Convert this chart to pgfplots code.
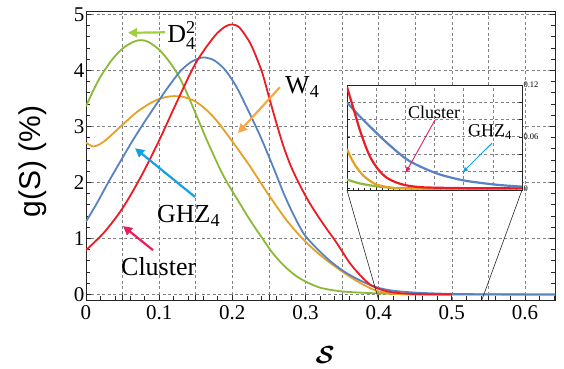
\documentclass[border=0pt]{standalone}
\usepackage{fontspec}
\setmainfont{Liberation Serif}
\newfontfamily\labelfont{Liberation Sans}
\newfontfamily\tickfont{Liberation Serif}
\usepackage{amsmath}
\usepackage{pgfplots}
\pgfplotsset{compat=1.18}
\usetikzlibrary{arrows.meta,calc}
\definecolor{cred}{RGB}{237,28,36}
\definecolor{cblue}{RGB}{88,130,192}
\definecolor{cgreen}{RGB}{139,185,56}
\definecolor{corange}{RGB}{230,160,35}
\definecolor{agreen}{RGB}{160,208,60}
\definecolor{aorange}{RGB}{247,167,70}
\definecolor{ablue}{RGB}{20,160,225}
\definecolor{ared}{RGB}{232,30,90}
\definecolor{gridgray}{RGB}{130,130,130}

\pgfplotstableread{
x y
0 0.79
0.025 1.11
0.05 1.54
0.075 2.10
0.1 2.75
0.125 3.46
0.15 4.13
0.175 4.60
0.19 4.78
0.2 4.82
0.21 4.76
0.225 4.47
0.24 3.99
0.25 3.53
0.26 3.07
0.27 2.64
0.28 2.29
0.29 2.01
0.30 1.76
0.31 1.54
0.32 1.34
0.33 1.15
0.34 0.97
0.35 0.77
0.36 0.57
0.37 0.41
0.38 0.27
0.39 0.16
0.40 0.10
0.41 0.06
0.42 0.035
0.44 0.012
0.46 0.004
0.48 0.001
0.5 0
}\redtab

\pgfplotstableread{
x y
0 1.30
0.015 1.63
0.03 1.99
0.045 2.33
0.063 2.73
0.08 3.08
0.1 3.47
0.115 3.75
0.13 4.00
0.145 4.16
0.16 4.23
0.175 4.18
0.19 4.01
0.205 3.72
0.22 3.33
0.237 2.86
0.25 2.46
0.26 2.14
0.27 1.81
0.28 1.52
0.29 1.26
0.30 1.04
0.32 0.76
0.337 0.56
0.355 0.39
0.373 0.26
0.39 0.16
0.40 0.115
0.42 0.065
0.45 0.032
0.48 0.016
0.5 0.009
0.55 0.002
0.6 0
0.641 0
}\bluetab

\pgfplotstableread{
x y
0 3.36
0.01 3.64
0.02 3.89
0.035 4.18
0.05 4.39
0.065 4.51
0.075 4.54
0.085 4.51
0.1 4.37
0.113 4.17
0.125 3.94
0.135 3.68
0.145 3.38
0.155 3.07
0.165 2.76
0.175 2.47
0.185 2.19
0.195 1.95
0.21 1.63
0.224 1.33
0.24 1.02
0.255 0.74
0.27 0.52
0.285 0.35
0.3 0.23
0.32 0.12
0.345 0.06
0.37 0.035
0.4 0.018
0.43 0.006
0.46 0.001
0.5 0
0.641 0
}\greentab

\pgfplotstableread{
x y
0 2.71
0.01 2.64
0.02 2.69
0.03 2.79
0.05 3.03
0.07 3.26
0.09 3.43
0.105 3.51
0.12 3.54
0.135 3.52
0.15 3.44
0.165 3.29
0.18 3.08
0.195 2.82
0.21 2.55
0.225 2.27
0.25 1.77
0.275 1.31
0.3 0.94
0.325 0.65
0.35 0.41
0.37 0.24
0.39 0.10
0.40 0.05
0.42 0.012
0.44 0.002
0.46 0
0.641 0
}\orangetab

\pgfplotstableread{
x y
0.4 0.118
0.4035 0.102
0.4068 0.087
0.411 0.068
0.4154 0.051
0.419 0.039
0.4226 0.030
0.428 0.020
0.434 0.0125
0.442 0.007
0.451 0.0035
0.46 0.0018
0.47 0.001
0.5 0.0003
0.55 0
}\iredtab

\pgfplotstableread{
x y
0.4 0.100
0.41 0.085
0.4226 0.068
0.435 0.052
0.451 0.034
0.465 0.024
0.48 0.016
0.499 0.0095
0.514 0.0065
0.53 0.004
0.55 0.002
}\ibluetab

\pgfplotstableread{
x y
0.4 0.0457
0.404 0.034
0.408 0.0248
0.4125 0.017
0.417 0.0114
0.425 0.0046
0.437 0.001
0.45 0
0.55 0
}\iorangetab

\pgfplotstableread{
x y
0.4 0.0103
0.405 0.008
0.411 0.0057
0.42 0.0035
0.428 0.002
0.44 0.0006
0.46 0
0.55 0
}\igreentab

\begin{document}
\begin{tikzpicture}
\begin{axis}[
  name=main,
  scale only axis,
  width=469bp, height=289bp,
  xmin=0, xmax=0.641, ymin=-0.10, ymax=5.06,
  axis line style={black!85, line width=0.9bp},
  xtick={0,0.05,0.1,0.15,0.2,0.25,0.3,0.35,0.4,0.45,0.5,0.55,0.6},
  xticklabels={0,,0.1,,0.2,,0.3,,0.4,,0.5,,0.6},
  minor xtick={0.02,0.04,0.06,0.08,0.12,0.14,0.16,0.18,0.22,0.24,0.26,0.28,0.32,0.34,0.36,0.38,0.42,0.44,0.46,0.48,0.52,0.54,0.56,0.58,0.62,0.64},
  xtick pos=left,
  ytick={0,1,2,3,4,5},
  minor y tick num=4,
  ytick pos=both,
  yticklabel pos=left,
  major tick length=5bp, minor tick length=4bp,
  every tick/.style={black!85, line width=0.7bp},
  grid=major,
  minor grid style={draw=none},
  major grid style={gridgray, dash pattern=on 3bp off 2.5bp, line width=0.6bp},
  tick label style={font=\tickfont\fontsize{21bp}{21bp}\selectfont},
  /pgf/number format/assume math mode=true,
  yticklabel style={xshift=2bp},
  xticklabel style={yshift=-2bp},
  xlabel={$\boldsymbol{\mathcal{S}}$},
  xlabel style={font=\fontsize{32bp}{32bp}\selectfont, at={(rel axis cs:0.51,-0.19)}, anchor=center},
  ylabel={g(S) (\%)},
  ylabel style={font=\labelfont\fontsize{30bp}{30bp}\selectfont, at={(rel axis cs:-0.113,0.479)}, anchor=center},
]
\addplot[cgreen, line width=1.8bp, smooth] table {\greentab};
\addplot[corange, line width=1.8bp, smooth] table {\orangetab};
\addplot[cblue, line width=1.8bp, smooth] table {\bluetab};
\addplot[cred, line width=1.8bp, smooth] table {\redtab};

\draw[agreen, line width=2.2bp, -{Triangle[length=9bp,width=9bp]}] (axis cs:0.108,4.68) -- (axis cs:0.0574,4.67);
\node[anchor=base west, inner sep=0pt, font=\fontsize{26bp}{26bp}\selectfont] at (axis cs:0.111,4.505) {D$_{\text{4}}^{\text{2}}$};

\draw[aorange, line width=2.2bp, -{Triangle[length=9bp,width=9bp]}] (axis cs:0.265,3.70) -- (axis cs:0.2077,2.88);
\node[anchor=base west, inner sep=0pt, font=\fontsize{26bp}{26bp}\selectfont] at (axis cs:0.272,3.59) {W$_{\text{4}}$};

\draw[ablue, line width=2.2bp, -{Triangle[length=9bp,width=9bp]}] (axis cs:0.149,1.74) -- (axis cs:0.067,2.61);
\node[anchor=base west, inner sep=0pt, font=\fontsize{26bp}{26bp}\selectfont] at (axis cs:0.097,1.28) {GHZ$_{\text{4}}$};

\draw[ared, line width=2.2bp, -{Triangle[length=9bp,width=9bp]}] (axis cs:0.0916,0.79) -- (axis cs:0.0506,1.22);
\node[anchor=base west, inner sep=0pt, font=\fontsize{26bp}{26bp}\selectfont] at (axis cs:0.0478,0.345) {Cluster};

\coordinate (LL) at (rel axis cs:0,0);
\coordinate (UR) at (rel axis cs:1,1);
\coordinate (insetSW) at (axis cs:0.3567,1.862);
\coordinate (mA) at (axis cs:0.4,-0.10);
\coordinate (mB) at (axis cs:0.541,-0.10);
\end{axis}

\begin{axis}[
  at={(insetSW)}, anchor=south west,
  scale only axis,
  width=175bp, height=105bp,
  xmin=0.4, xmax=0.55, ymin=-0.002, ymax=0.12,
  axis background/.style={fill=white},
  axis line style={black!85, line width=0.8bp},
  xtick={0.425,0.45,0.475,0.5,0.525},
  xticklabels={},
  minor xtick={0.405,0.41,0.415,0.42,0.43,0.435,0.44,0.445,0.455,0.46,0.465,0.47,0.48,0.485,0.49,0.495,0.505,0.51,0.515,0.52,0.53,0.535,0.54,0.545},
  xtick pos=left,
  ytick={0.02,0.04,0.06,0.08,0.1},
  yticklabels={},
  ytick pos=both,
  extra y ticks={0,0.06,0.12},
  extra y tick labels={0,0.06,0.12},
  extra y tick style={grid=none, yticklabel pos=right},
  major tick length=3bp, minor tick length=2.5bp,
  every tick/.style={black!85, line width=0.5bp},
  grid=major,
  minor grid style={draw=none},
  major grid style={gridgray, dash pattern=on 3bp off 2.5bp, line width=0.6bp},
  tick label style={font=\tickfont\fontsize{8.5bp}{8.5bp}\selectfont},
  /pgf/number format/assume math mode=true,
  yticklabel style={xshift=-2bp},
]
\addplot[cgreen, line width=2.2bp, smooth] table {\igreentab};
\addplot[corange, line width=2.2bp, smooth] table {\iorangetab};
\addplot[cblue, line width=2.2bp, smooth] table {\ibluetab};
\addplot[cred, line width=2.2bp, smooth] table {\iredtab};

\draw[ared, line width=0.9bp, -{Triangle[length=5bp,width=4.5bp]}] (axis cs:0.4754,0.0794) -- (axis cs:0.4506,0.0189);
\node[anchor=base west, inner sep=0pt, font=\fontsize{18bp}{18bp}\selectfont] at (axis cs:0.4523,0.0816) {Cluster};
\draw[ablue, line width=0.9bp, -{Triangle[length=5bp,width=4.5bp]}] (axis cs:0.5243,0.0526) -- (axis cs:0.4994,0.0189);
\node[anchor=base west, inner sep=0pt, font=\fontsize{18bp}{18bp}\selectfont] at (axis cs:0.5037,0.060) {GHZ$_{\text{4}}$};

\coordinate (iBL) at (rel axis cs:0,0);
\coordinate (iBR) at (rel axis cs:1,0);
\end{axis}

\draw[black!85, line width=0.6bp] (iBL) -- (mA);
\draw[black!85, line width=0.6bp] (iBR) -- (mB);

\pgfresetboundingbox
\path ($(LL)+(-86bp,-69bp)$) rectangle ($(UR)+(9bp,11bp)$);
\end{tikzpicture}
\end{document}
